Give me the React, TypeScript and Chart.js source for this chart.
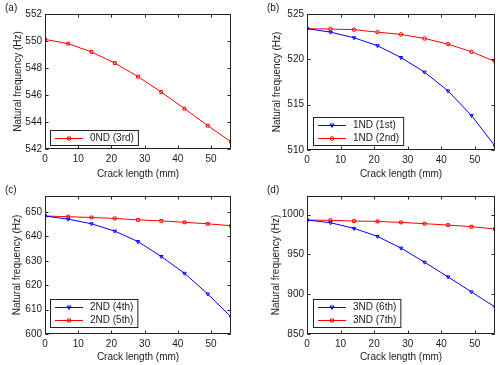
import React, { useEffect, useRef } from "react";
import { Chart, registerables } from "chart.js";

Chart.register(...registerables);

// ---- data ----
const crackLength = [0, 7, 14, 21, 28, 35, 42, 49, 56];
const xTicks = [0, 10, 20, 30, 40, 50];

const nd0_3rd = [550.12, 549.8, 549.19, 548.37, 547.36, 546.22, 544.99, 543.73, 542.54];
const nd1_1st = [523.38, 523.0, 522.38, 521.5, 520.2, 518.59, 516.52, 513.8, 510.44];
const nd1_2nd = [523.38, 523.34, 523.27, 523.0, 522.75, 522.3, 521.68, 520.83, 519.77];
const nd2_4th = [648.36, 647.1, 645.2, 642.2, 637.9, 631.8, 624.9, 616.4, 607.0];
const nd2_5th = [648.4, 648.1, 647.8, 647.4, 646.8, 646.4, 645.8, 645.2, 644.4];
const nd3_6th = [993.3, 989.9, 982.8, 972.7, 958.0, 940.3, 921.8, 902.9, 884.0];
const nd3_7th = [993.3, 992.9, 992.0, 991.6, 990.3, 988.7, 987.0, 984.9, 982.0];

const yTicksA = [542, 544, 546, 548, 550, 552];
const yTicksB = [510, 515, 520, 525];
const yTicksC = [600, 610, 620, 630, 640, 650];
const yTicksD = [850, 900, 950, 1000];

const xTitle = "Crack length (mm)";
const yTitle = "Natural frequency (Hz)";

const RED = "#ff0000";
const BLUE = "#0000ff";
const TEXT = "#1a1a1a";
const FONT_FAMILY = "'Liberation Sans', Arial, sans-serif";

type Series = { label: string; values: number[]; color: string; marker: string };
type Panel = {
  tag: string;
  left: number; top: number; W: number; H: number;
  padLeft: number; areaLeft: number; areaRight: number; areaTop: number; areaBottom: number;
  yMin: number; yMax: number; yTicks: number[];
  series: Series[];
  legLeft: number; legBottom: number;
};

const panels: Panel[] = [
  {
    tag: "(a)", left: 0, top: 0, W: 250, H: 182,
    padLeft: 8, areaLeft: 45, areaRight: 231, areaTop: 14, areaBottom: 149,
    yMin: 542, yMax: 552, yTicks: yTicksA,
    series: [{ label: "0ND (3rd)", values: nd0_3rd, color: RED, marker: "rect" }],
    legLeft: 5, legBottom: 3,
  },
  {
    tag: "(b)", left: 250, top: 0, W: 250, H: 182,
    padLeft: 17, areaLeft: 57, areaRight: 245, areaTop: 14, areaBottom: 150,
    yMin: 510, yMax: 525, yTicks: yTicksB,
    series: [
      { label: "1ND (1st)", values: nd1_1st, color: BLUE, marker: "tri" },
      { label: "1ND (2nd)", values: nd1_2nd, color: RED, marker: "circle" },
    ],
    legLeft: 6, legBottom: 4,
  },
  {
    tag: "(c)", left: 0, top: 182, W: 250, H: 183,
    padLeft: 7, areaLeft: 45, areaRight: 231, areaTop: 14, areaBottom: 152,
    yMin: 600, yMax: 656.6, yTicks: yTicksC,
    series: [
      { label: "2ND (4th)", values: nd2_4th, color: BLUE, marker: "tri" },
      { label: "2ND (5th)", values: nd2_5th, color: RED, marker: "rect" },
    ],
    legLeft: 5, legBottom: 6,
  },
  {
    tag: "(d)", left: 250, top: 182, W: 250, H: 183,
    padLeft: 16, areaLeft: 57, areaRight: 245, areaTop: 14, areaBottom: 152,
    yMin: 850, yMax: 1023.5, yTicks: yTicksD,
    series: [
      { label: "3ND (6th)", values: nd3_6th, color: BLUE, marker: "tri" },
      { label: "3ND (7th)", values: nd3_7th, color: RED, marker: "rect" },
    ],
    legLeft: 6, legBottom: 6,
  },
];

function drawMarker(ctx: CanvasRenderingContext2D, marker: string, x: number, y: number, color: string) {
  ctx.save();
  ctx.strokeStyle = color;
  ctx.lineWidth = 1;
  ctx.beginPath();
  if (marker === "rect") {
    ctx.rect(x - 1.5, y - 1.5, 3, 3);
  } else if (marker === "circle") {
    ctx.arc(x, y, 1.8, 0, Math.PI * 2);
  } else {
    ctx.moveTo(x - 2, y - 1.5);
    ctx.lineTo(x + 2, y - 1.5);
    ctx.lineTo(x, y + 2);
    ctx.closePath();
  }
  ctx.stroke();
  ctx.restore();
}

function makePlugin(p: Panel) {
  return {
    id: "matlabFrame",
    afterDraw(chart: any) {
      const { ctx, chartArea: a, scales } = chart;
      ctx.save();
      // box
      ctx.strokeStyle = "#222";
      ctx.lineWidth = 1;
      const L = Math.round(a.left) + 0.5, R = Math.round(a.right) - 0.5;
      const T = Math.round(a.top) + 0.5, B = Math.round(a.bottom) - 0.5;
      ctx.strokeRect(L, T, R - L, B - T);
      // inward ticks
      const tl = 3;
      ctx.beginPath();
      for (const t of scales.x.ticks) {
        const px = Math.round(scales.x.getPixelForValue(t.value)) + 0.5;
        ctx.moveTo(px, B); ctx.lineTo(px, B - tl);
        ctx.moveTo(px, T); ctx.lineTo(px, T + tl);
      }
      for (const t of scales.y.ticks) {
        const py = Math.round(scales.y.getPixelForValue(t.value)) + 0.5;
        ctx.moveTo(L, py); ctx.lineTo(L + tl, py);
        ctx.moveTo(R, py); ctx.lineTo(R - tl, py);
      }
      ctx.stroke();

      // legend
      ctx.font = `10px ${FONT_FAMILY}`;
      const rowH = 13;
      const n = p.series.length;
      const boxH = n * rowH + 3;
      const boxL = Math.round(a.left) + p.legLeft;
      const boxB = Math.round(a.bottom) - p.legBottom;
      const boxT = boxB - boxH;
      const textX = boxL + 40;
      let maxW = 0;
      for (const s of p.series) maxW = Math.max(maxW, ctx.measureText(s.label).width);
      const boxW = textX + maxW + 5 - boxL;
      ctx.fillStyle = "#ffffff";
      ctx.fillRect(boxL, boxT, boxW, boxH);
      ctx.strokeStyle = "#222";
      ctx.strokeRect(boxL + 0.5, boxT + 0.5, boxW - 1, boxH - 1);
      p.series.forEach((s, i) => {
        const cy = Math.round(boxT + 1.5 + rowH * i + rowH / 2) + 0.5;
        ctx.strokeStyle = s.color;
        ctx.beginPath();
        ctx.moveTo(boxL + 5, cy);
        ctx.lineTo(boxL + 33, cy);
        ctx.stroke();
        drawMarker(ctx, s.marker, boxL + 19, cy, s.color);
        ctx.fillStyle = TEXT;
        ctx.textBaseline = "middle";
        ctx.textAlign = "left";
        ctx.fillText(s.label, textX, cy);
      });

      // panel tag
      ctx.fillStyle = TEXT;
      ctx.textBaseline = "middle";
      ctx.textAlign = "left";
      ctx.fillText(p.tag, p.tag === "(a)" || p.tag === "(c)" ? 5 : 17, 8);
      ctx.restore();
    },
  };
}

function PanelChart({ p }: { p: Panel }) {
  const ref = useRef<HTMLCanvasElement>(null);
  useEffect(() => {
    if (!ref.current) return;
    const font = { family: FONT_FAMILY, size: 10 };
    const chart = new Chart(ref.current, {
      type: "line",
      data: {
        datasets: p.series.map((s) => ({
          label: s.label,
          data: crackLength.map((x, i) => ({ x, y: s.values[i] })),
          borderColor: s.color,
          borderWidth: 1,
          backgroundColor: "rgba(0,0,0,0)",
          pointBorderColor: s.color,
          pointBackgroundColor: "rgba(0,0,0,0)",
          pointBorderWidth: 1,
          pointRadius: s.marker === "circle" ? 1.8 : 2,
          pointStyle: s.marker === "tri" ? "triangle" : s.marker === "rect" ? "rect" : "circle",
          rotation: s.marker === "tri" ? 180 : 0,
          tension: 0,
          fill: false,
        })),
      },
      options: {
        animation: false,
        responsive: false,
        devicePixelRatio: 1,
        events: [],
        layout: {
          padding: { left: p.padLeft, right: p.W - p.areaRight, top: p.areaTop, bottom: 0 },
        },
        plugins: { legend: { display: false }, tooltip: { enabled: false } },
        scales: {
          x: {
            type: "linear",
            min: 0,
            max: 56,
            afterBuildTicks: (s: any) => {
              s.ticks = xTicks.map((v) => ({ value: v }));
            },
            afterFit: (s: any) => {
              s.height = p.H - p.areaBottom;
            },
            grid: { display: false, drawTicks: false },
            border: { display: false },
            ticks: { padding: 4, color: TEXT, font, autoSkip: false, maxRotation: 0, callback: (v: any) => String(v) },
            title: { display: true, text: xTitle, color: TEXT, font, padding: { top: 0, bottom: 2 } },
          },
          y: {
            type: "linear",
            min: p.yMin,
            max: p.yMax,
            afterBuildTicks: (s: any) => {
              s.ticks = p.yTicks.map((v) => ({ value: v }));
            },
            afterFit: (s: any) => {
              s.width = p.areaLeft - p.padLeft;
            },
            grid: { display: false, drawTicks: false },
            border: { display: false },
            ticks: { padding: 3, color: TEXT, font, autoSkip: false, callback: (v: any) => String(v) },
            title: { display: true, text: yTitle, color: TEXT, font, padding: { top: 4, bottom: 4 } },
          },
        },
      } as any,
      plugins: [makePlugin(p)],
    });
    return () => chart.destroy();
  }, [p]);
  return (
    <canvas
      ref={ref}
      width={p.W}
      height={p.H}
      style={{ position: "absolute", left: p.left, top: p.top, width: p.W, height: p.H }}
    />
  );
}

export default function App() {
  return (
    <div style={{ position: "absolute", left: 0, top: 0, width: 500, height: 365, background: "#fff" }}>
      {panels.map((p) => (
        <PanelChart key={p.tag} p={p} />
      ))}
    </div>
  );
}
